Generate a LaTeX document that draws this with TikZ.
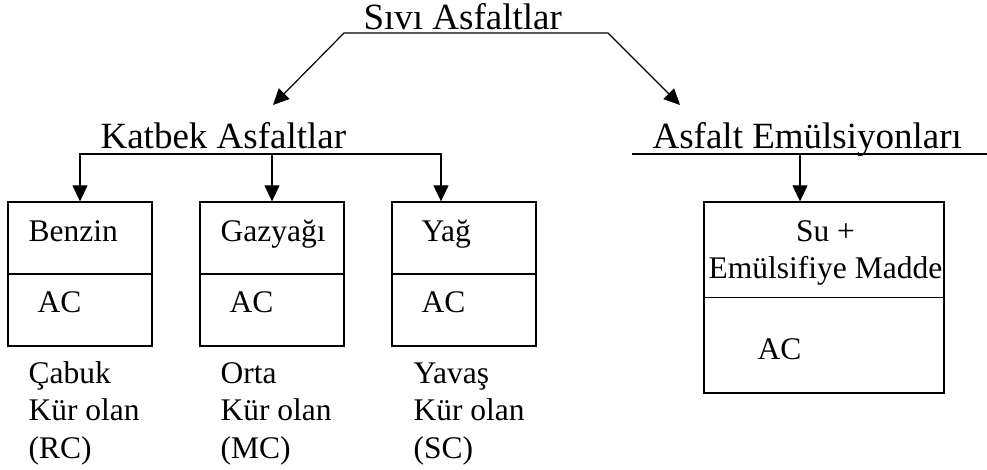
\documentclass[tikz,border=0pt]{standalone}
\usepackage{fontspec}
\setmainfont{Liberation Serif}
\usetikzlibrary{arrows.meta}
\begin{document}
\begin{tikzpicture}[x=1pt,y=-1pt,
  line width=1.2pt,
  title/.style={inner sep=0pt,anchor=base west,font=\fontsize{37}{44}\selectfont},
  btext/.style={inner sep=0pt,anchor=base west,font=\fontsize{31.5}{37.5}\selectfont},
  lbl/.style={inner sep=0pt,anchor=base west,align=left,font=\fontsize{31.5}{37.5}\selectfont},
  box/.style={draw,line width=1.3pt,minimum width=#1,inner sep=0pt},
  arr/.style={-{Triangle[length=16pt,width=15pt]}},
  barr/.style={{Triangle[length=16pt,width=15pt]}-{Triangle[length=16pt,width=15pt]}}]
\useasboundingbox (0,0) rectangle (987,470);
% titles
\node[title] (sivi) at (363,30) {Sıvı Asfaltlar};
\node[title] (katbek) at (100,149) {Katbek Asfaltlar};
\node[title] (emul) at (652,149) {Asfalt Emülsiyonları};
% boxes
\node[box=144pt,minimum height=144pt] (b1) at (80,274) {};
\node[box=144pt,minimum height=144pt] (b2) at (272,274) {};
\node[box=144pt,minimum height=144pt] (b3) at (464,274) {};
\node[box=240pt,minimum height=191pt] (b4) at (824,297.5) {};
\draw[line width=1.3pt] (b1.west) -- (b1.east);
\draw[line width=1.3pt] (b2.west) -- (b2.east);
\draw[line width=1.3pt] (b3.west) -- (b3.east);
\draw[line width=1.3pt] (b4.west) -- (b4.east);
% box texts
\node[btext] (t1) at (28,241) {Benzin};
\node[btext] (a1) at (37,312) {AC};
\node[btext] (t2) at (220,242) {Gazyağı};
\node[btext] (a2) at (229,312) {AC};
\node[btext] (t3) at (421,242) {Yağ};
\node[btext] (a3) at (421,312) {AC};
\node[inner sep=0pt,anchor=base,align=center,font=\fontsize{31.5}{37}\selectfont] (t4) at (825.5,278) {Su +\\Emülsifiye Madde};
\node[btext] (a4) at (757,359) {AC};
% labels under boxes (base anchor = last line)
\node[lbl] (l1) at (28,458) {Çabuk\\Kür olan\\(RC)};
\node[lbl] (l2) at (220,458) {Orta\\Kür olan\\(MC)};
\node[lbl] (l3) at (413,458) {Yavaş\\Kür olan\\(SC)};
% connectors
\coordinate (s1) at (344,33);
\coordinate (s2) at (608,33);
\coordinate (kt) at (273,105);
\coordinate (et) at (680,105);
\draw[barr] (kt) -- (s1) -- (s2) -- (et);
\coordinate (kL) at (80,154);
\coordinate (kM) at (272,154);
\coordinate (kR) at (441,154);
\draw[barr] (b1.north) -- (kL) -- (kR) -- (kR |- b3.north);
\draw[arr] (kM) -- (b2.north);
\coordinate (eL) at (632,154);
\coordinate (eR) at (987,154);
\coordinate (eM) at (800,154);
\draw (eL) -- (eR);
\draw[arr] (eM) -- (eM |- b4.north);
\end{tikzpicture}
\end{document}
